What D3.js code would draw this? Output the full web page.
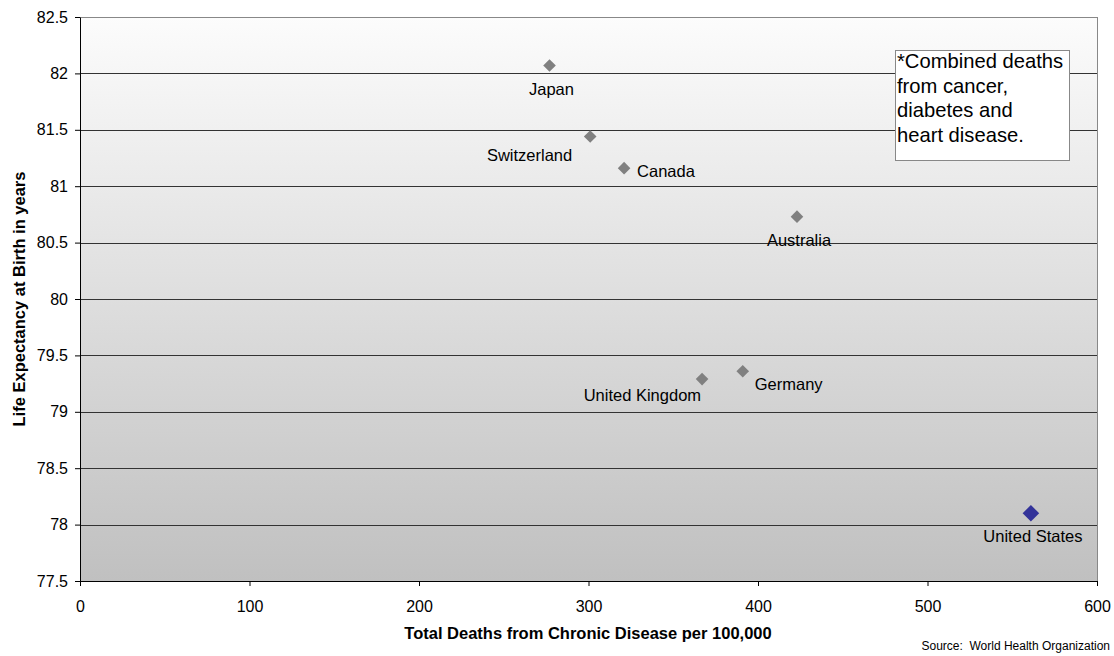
<!DOCTYPE html>
<html>
<head>
<meta charset="utf-8">
<script src="https://cdn.jsdelivr.net/npm/d3@7"></script>
<style>
  body { margin: 0; background: #fff; }
  text { font-family: "Liberation Sans", Arial, sans-serif; }
</style>
</head>
<body>
<div class="container"></div>
<script>
const WIDTH = 1114,
    HEIGHT = 656,
    LEFT = 80,
    TOP = 17,
    INNER_WIDTH = 1017,
    INNER_HEIGHT = 564;

const countries = ['Japan', 'Switzerland', 'Canada', 'Australia', 'United Kingdom', 'Germany', 'United States'];
const deaths = [277, 301, 321, 423, 367, 391, 561];
const lifeExpectancy = [82.07, 81.44, 81.16, 80.73, 79.29, 79.36, 78.1];
const xTicks = [0, 100, 200, 300, 400, 500, 600];
const yTicks = [77.5, 78, 78.5, 79, 79.5, 80, 80.5, 81, 81.5, 82, 82.5];
const noteLines = ['*Combined deaths', 'from cancer,', 'diabetes and', 'heart disease.'];

// where each label sits relative to its marker
const labelPlace = {
    'Japan': 'below',
    'Switzerland': 'belowLeft',
    'Canada': 'right',
    'Australia': 'below',
    'United Kingdom': 'underLeft',
    'Germany': 'rightBelow',
    'United States': 'below'
};

const xScale = d3.scaleLinear().domain([0, 600]).range([0, INNER_WIDTH]);
const yScale = d3.scaleLinear().domain([77.5, 82.5]).range([INNER_HEIGHT, 0]);

const translate = (x, y) => `translate(${x},${y})`;

const svg = d3.select('.container').append('svg')
    .attr('width', WIDTH)
    .attr('height', HEIGHT);

const grad = svg.append('defs').append('linearGradient')
    .attr('id', 'bg')
    .attr('x1', 0).attr('y1', 0).attr('x2', 0).attr('y2', 1);
grad.append('stop').attr('offset', '0%').attr('stop-color', '#fcfcfc');
grad.append('stop').attr('offset', '100%').attr('stop-color', '#c0c0c0');

const g = svg.append('g').attr('transform', translate(LEFT, TOP));

g.append('rect')
    .attr('width', INNER_WIDTH)
    .attr('height', INNER_HEIGHT)
    .attr('fill', 'url(#bg)');

// gridlines
g.selectAll('.grid')
    .data(yTicks.slice(1))
    .enter().append('line')
    .attr('x1', 0).attr('x2', INNER_WIDTH)
    .attr('y1', d => Math.round(yScale(d)) + 0.5)
    .attr('y2', d => Math.round(yScale(d)) + 0.5)
    .attr('stroke', d => d === 82.5 ? '#888' : '#333')
    .attr('stroke-width', 1);

// right border
g.append('line')
    .attr('x1', INNER_WIDTH + 0.5).attr('x2', INNER_WIDTH + 0.5)
    .attr('y1', 0).attr('y2', INNER_HEIGHT)
    .attr('stroke', '#888');

const xAxis = d3.axisBottom(xScale).tickValues(xTicks).tickSize(5).tickSizeOuter(0).tickFormat(d3.format('d'));
const yAxis = d3.axisLeft(yScale).tickValues(yTicks).tickSize(5).tickSizeOuter(0).tickFormat(d => d);

const xg = g.append('g')
    .attr('transform', translate(0, INNER_HEIGHT))
    .call(xAxis);
xg.selectAll('text').attr('font-size', 16).attr('fill', '#000').attr('y', 31).attr('dy', 0);
xg.selectAll('line, path').attr('stroke', '#000');

const yg = g.append('g').call(yAxis);
yg.selectAll('text').attr('font-size', 16).attr('fill', '#000').attr('x', -12);
yg.selectAll('line, path').attr('stroke', '#000');

// markers
const points = countries.map((name, i) => ({ name, x: deaths[i], y: lifeExpectancy[i] }));

g.selectAll('.marker')
    .data(points)
    .enter().append('path')
    .attr('d', d => {
        const r = d.name === 'United States' ? 8.3 : 6.3;
        return `M0,${-r}L${r},0L0,${r}L${-r},0Z`;
    })
    .attr('transform', d => translate(xScale(d.x), yScale(d.y)))
    .attr('fill', d => d.name === 'United States' ? '#333399' : '#808080');

// labels
const offsets = {
    below: [2, 29, 'middle'],
    belowLeft: [-18, 24, 'end'],
    underLeft: [-1, 22, 'end'],
    right: [13, 9, 'start'],
    rightBelow: [12, 19, 'start']
};

g.selectAll('.label')
    .data(points)
    .enter().append('text')
    .attr('x', d => xScale(d.x) + offsets[labelPlace[d.name]][0])
    .attr('y', d => yScale(d.y) + offsets[labelPlace[d.name]][1])
    .attr('text-anchor', d => offsets[labelPlace[d.name]][2])
    .attr('font-size', 16.5)
    .attr('fill', '#000')
    .text(d => d.name);

// note box
const note = svg.append('g').attr('transform', translate(895, 50));
note.append('rect')
    .attr('x', 0.5).attr('y', 0.5)
    .attr('width', 174).attr('height', 110)
    .attr('fill', '#fff')
    .attr('stroke', '#888');
note.selectAll('text')
    .data(noteLines)
    .enter().append('text')
    .attr('x', 2)
    .attr('y', (d, i) => 18 + i * 24.6)
    .attr('font-size', 20.2)
    .attr('fill', '#000')
    .text(d => d);

// axis titles
svg.append('text')
    .attr('x', 588)
    .attr('y', 639)
    .attr('text-anchor', 'middle')
    .attr('font-size', 16.5)
    .attr('font-weight', 'bold')
    .text('Total Deaths from Chronic Disease per 100,000');

svg.append('text')
    .attr('transform', translate(25, TOP + INNER_HEIGHT / 2) + ' rotate(-90)')
    .attr('text-anchor', 'middle')
    .attr('font-size', 16.5)
    .attr('font-weight', 'bold')
    .text('Life Expectancy at Birth in years');

svg.append('text')
    .attr('x', 1110)
    .attr('y', 650)
    .attr('text-anchor', 'end')
    .attr('font-size', 12)
    .attr('xml:space', 'preserve')
    .style('white-space', 'pre')
    .text('Source:  World Health Organization');
</script>
</body>
</html>
